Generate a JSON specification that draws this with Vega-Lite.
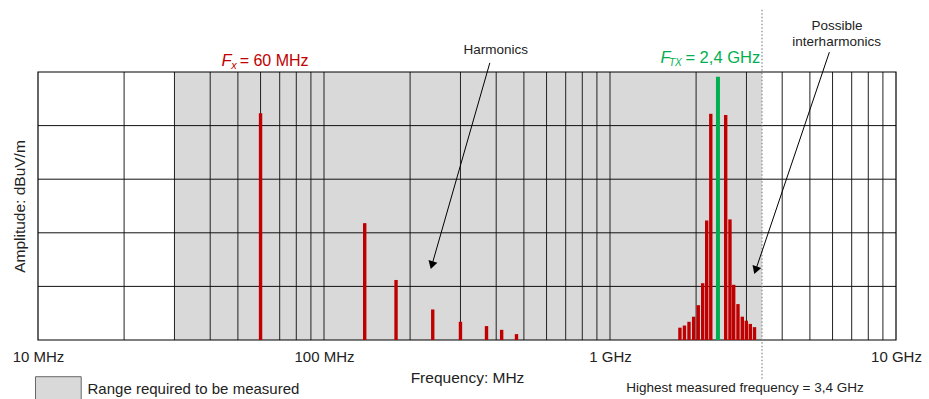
{
  "$schema": "https://vega.github.io/schema/vega-lite/v6.json",
  "autosize": "none",
  "width": 858,
  "height": 268,
  "padding": {"left": 38, "top": 72, "right": 33, "bottom": 59},
  "config": {"view": {"stroke": null}, "font": "Liberation Sans"},
  "datasets": {
    "range": [{"f": 30, "f2": 3400, "a": 0, "a2": 5}],
    "vgrid": [{"f": 20},{"f": 30},{"f": 40},{"f": 50},{"f": 60},{"f": 70},{"f": 80},{"f": 90},{"f": 100},{"f": 200},{"f": 300},{"f": 400},{"f": 500},{"f": 600},{"f": 700},{"f": 800},{"f": 900},{"f": 1000},{"f": 2000},{"f": 3000},{"f": 4000},{"f": 5000},{"f": 6000},{"f": 7000},{"f": 8000},{"f": 9000}],
    "hgrid": [{"a": 1},{"a": 2},{"a": 3},{"a": 4}],
    "border": [{"f": 10, "f2": 10000, "a": 0, "a2": 5}],
    "red": [
      {"f": 60, "amp": 4.23},
      {"f": 138.8, "amp": 2.18},
      {"f": 178.6, "amp": 1.12},
      {"f": 240, "amp": 0.57},
      {"f": 300, "amp": 0.34},
      {"f": 370, "amp": 0.26},
      {"f": 418, "amp": 0.19},
      {"f": 471, "amp": 0.11},
      {"f": 1756, "amp": 0.23},
      {"f": 1821, "amp": 0.27},
      {"f": 1889, "amp": 0.34},
      {"f": 1961, "amp": 0.435},
      {"f": 2035, "amp": 0.65},
      {"f": 2109, "amp": 1.06},
      {"f": 2178, "amp": 2.23},
      {"f": 2251, "amp": 4.22},
      {"f": 2538, "amp": 4.2},
      {"f": 2627, "amp": 2.25},
      {"f": 2707, "amp": 1.03},
      {"f": 2802, "amp": 0.67},
      {"f": 2901, "amp": 0.435},
      {"f": 2996, "amp": 0.36},
      {"f": 3094, "amp": 0.3},
      {"f": 3201, "amp": 0.24}
    ],
    "green": [{"f": 2385, "amp": 4.91}],
    "dotted": [{"f": 3400, "a": 6.16, "a2": -0.75}],
    "arrows": [
      {"f": 380, "a": 5.17, "f2": 238.3, "a2": 1.395},
      {"f": 5848, "a": 5.37, "f2": 3229, "a2": 1.3}
    ],
    "head1": [{"f": 238.3, "a": 1.395}],
    "head2": [{"f": 3229, "a": 1.3}],
    "notes": [
      {"t": "Harmonics", "f": 398.9, "a": 5.336},
      {"t": "Possible", "f": 6222, "a": 5.784},
      {"t": "interharmonics", "f": 6200, "a": 5.491}
    ],
    "fxMain": [{"t": "F", "f": 43.85, "a": 5.118}],
    "fxSub": [{"t": "x", "f": 47.35, "a": 5.06}],
    "fxRest": [{"t": "= 60 MHz", "f": 50.7, "a": 5.118}],
    "ftxMain": [{"t": "F", "f": 1503, "a": 5.162}],
    "ftxSub": [{"t": "TX", "f": 1607, "a": 5.11}],
    "ftxRest": [{"t": "= 2,4 GHz", "f": 1835, "a": 5.162}],
    "legendBox": [{"f": 9.8, "f2": 14.16, "a": -0.685, "a2": -1.3}],
    "legendText": [{"t": "Range required to be measured", "f": 14.9, "a": -1.0}],
    "highest": [{"t": "Highest measured frequency = 3,4 GHz", "f": 2965, "a": -0.97}]
  },
  "layer": [
    {
      "data": {"name": "range"},
      "mark": {"type": "rect", "fill": "#d9d9d9"},
      "encoding": {
        "x": {"field": "f", "type": "quantitative",
          "scale": {"type": "log", "domain": [10, 10000], "nice": false},
          "axis": {
            "values": [10, 100, 1000, 10000],
            "labelExpr": "datum.value == 10 ? '10 MHz' : datum.value == 100 ? '100 MHz' : datum.value == 1000 ? '1 GHz' : '10 GHz'",
            "grid": false, "ticks": false, "domain": false,
            "labelFlush": false, "labelOverlap": false,
            "labelFontSize": 15, "labelColor": "#222", "labelPadding": 9,
            "title": "Frequency: MHz", "titleFontSize": 15.5, "titleFontWeight": "normal",
            "titleColor": "#222", "titlePadding": 6
          }
        },
        "x2": {"field": "f2"},
        "y": {"field": "a", "type": "quantitative",
          "scale": {"domain": [0, 5], "nice": false, "zero": false},
          "axis": {
            "labels": false, "ticks": false, "domain": false, "grid": false,
            "title": "Amplitude: dBuV/m", "titleFontSize": 15.5, "titleFontWeight": "normal",
            "titleColor": "#222", "titlePadding": 11
          }
        },
        "y2": {"field": "a2"}
      }
    },
    {
      "data": {"name": "vgrid"},
      "mark": {"type": "rule", "stroke": "#222", "strokeWidth": 1},
      "encoding": {
        "x": {"field": "f", "type": "quantitative"},
        "y": {"datum": 0, "type": "quantitative"},
        "y2": {"datum": 5}
      }
    },
    {
      "data": {"name": "hgrid"},
      "mark": {"type": "rule", "stroke": "#111", "strokeWidth": 1},
      "encoding": {
        "y": {"field": "a", "type": "quantitative"},
        "x": {"datum": 10, "type": "quantitative"},
        "x2": {"datum": 10000}
      }
    },
    {
      "data": {"name": "border"},
      "mark": {"type": "rect", "fillOpacity": 0, "stroke": "#000", "strokeWidth": 1.2},
      "encoding": {
        "x": {"field": "f", "type": "quantitative"},
        "x2": {"field": "f2"},
        "y": {"field": "a", "type": "quantitative"},
        "y2": {"field": "a2"}
      }
    },
    {
      "data": {"name": "red"},
      "mark": {"type": "rule", "stroke": "#c00000", "strokeWidth": 3.4},
      "encoding": {
        "x": {"field": "f", "type": "quantitative"},
        "y": {"field": "amp", "type": "quantitative"},
        "y2": {"datum": 0}
      }
    },
    {
      "data": {"name": "green"},
      "mark": {"type": "rule", "stroke": "#00b050", "strokeWidth": 4},
      "encoding": {
        "x": {"field": "f", "type": "quantitative"},
        "y": {"field": "amp", "type": "quantitative"},
        "y2": {"datum": 0}
      }
    },
    {
      "data": {"name": "dotted"},
      "mark": {"type": "rule", "stroke": "#888", "strokeWidth": 1.2, "strokeDash": [1.5, 2]},
      "encoding": {
        "x": {"field": "f", "type": "quantitative"},
        "y": {"field": "a", "type": "quantitative"},
        "y2": {"field": "a2"}
      }
    },
    {
      "data": {"name": "arrows"},
      "mark": {"type": "rule", "stroke": "#000", "strokeWidth": 1},
      "encoding": {
        "x": {"field": "f", "type": "quantitative"},
        "y": {"field": "a", "type": "quantitative"},
        "x2": {"field": "f2"},
        "y2": {"field": "a2"}
      }
    },
    {
      "data": {"name": "head1"},
      "mark": {"type": "point", "shape": "triangle-up", "filled": true, "color": "#000", "opacity": 1, "size": 85, "angle": 196},
      "encoding": {
        "x": {"field": "f", "type": "quantitative"},
        "y": {"field": "a", "type": "quantitative"}
      }
    },
    {
      "data": {"name": "head2"},
      "mark": {"type": "point", "shape": "triangle-up", "filled": true, "color": "#000", "opacity": 1, "size": 85, "angle": 198.7},
      "encoding": {
        "x": {"field": "f", "type": "quantitative"},
        "y": {"field": "a", "type": "quantitative"}
      }
    },
    {
      "data": {"name": "notes"},
      "mark": {"type": "text", "fontSize": 13.5, "color": "#222", "align": "center", "baseline": "alphabetic"},
      "encoding": {
        "x": {"field": "f", "type": "quantitative"},
        "y": {"field": "a", "type": "quantitative"},
        "text": {"field": "t"}
      }
    },
    {
      "data": {"name": "fxMain"},
      "mark": {"type": "text", "fontSize": 16.5, "fontStyle": "italic", "color": "#c00000", "align": "left", "baseline": "alphabetic"},
      "encoding": {
        "x": {"field": "f", "type": "quantitative"},
        "y": {"field": "a", "type": "quantitative"},
        "text": {"field": "t"}
      }
    },
    {
      "data": {"name": "fxSub"},
      "mark": {"type": "text", "fontSize": 11, "fontStyle": "italic", "color": "#c00000", "align": "left", "baseline": "alphabetic"},
      "encoding": {
        "x": {"field": "f", "type": "quantitative"},
        "y": {"field": "a", "type": "quantitative"},
        "text": {"field": "t"}
      }
    },
    {
      "data": {"name": "fxRest"},
      "mark": {"type": "text", "fontSize": 16, "color": "#c00000", "align": "left", "baseline": "alphabetic"},
      "encoding": {
        "x": {"field": "f", "type": "quantitative"},
        "y": {"field": "a", "type": "quantitative"},
        "text": {"field": "t"}
      }
    },
    {
      "data": {"name": "ftxMain"},
      "mark": {"type": "text", "fontSize": 16.5, "fontStyle": "italic", "color": "#00b050", "align": "left", "baseline": "alphabetic"},
      "encoding": {
        "x": {"field": "f", "type": "quantitative"},
        "y": {"field": "a", "type": "quantitative"},
        "text": {"field": "t"}
      }
    },
    {
      "data": {"name": "ftxSub"},
      "mark": {"type": "text", "fontSize": 10, "fontStyle": "italic", "color": "#00b050", "align": "left", "baseline": "alphabetic"},
      "encoding": {
        "x": {"field": "f", "type": "quantitative"},
        "y": {"field": "a", "type": "quantitative"},
        "text": {"field": "t"}
      }
    },
    {
      "data": {"name": "ftxRest"},
      "mark": {"type": "text", "fontSize": 16.5, "color": "#00b050", "align": "left", "baseline": "alphabetic"},
      "encoding": {
        "x": {"field": "f", "type": "quantitative"},
        "y": {"field": "a", "type": "quantitative"},
        "text": {"field": "t"}
      }
    },
    {
      "data": {"name": "legendBox"},
      "mark": {"type": "rect", "fill": "#d9d9d9", "stroke": "#666", "strokeWidth": 1},
      "encoding": {
        "x": {"field": "f", "type": "quantitative"},
        "x2": {"field": "f2"},
        "y": {"field": "a", "type": "quantitative"},
        "y2": {"field": "a2"}
      }
    },
    {
      "data": {"name": "legendText"},
      "mark": {"type": "text", "fontSize": 15, "color": "#222", "align": "left", "baseline": "alphabetic"},
      "encoding": {
        "x": {"field": "f", "type": "quantitative"},
        "y": {"field": "a", "type": "quantitative"},
        "text": {"field": "t"}
      }
    },
    {
      "data": {"name": "highest"},
      "mark": {"type": "text", "fontSize": 13.5, "color": "#222", "align": "center", "baseline": "alphabetic"},
      "encoding": {
        "x": {"field": "f", "type": "quantitative"},
        "y": {"field": "a", "type": "quantitative"},
        "text": {"field": "t"}
      }
    }
  ]
}
